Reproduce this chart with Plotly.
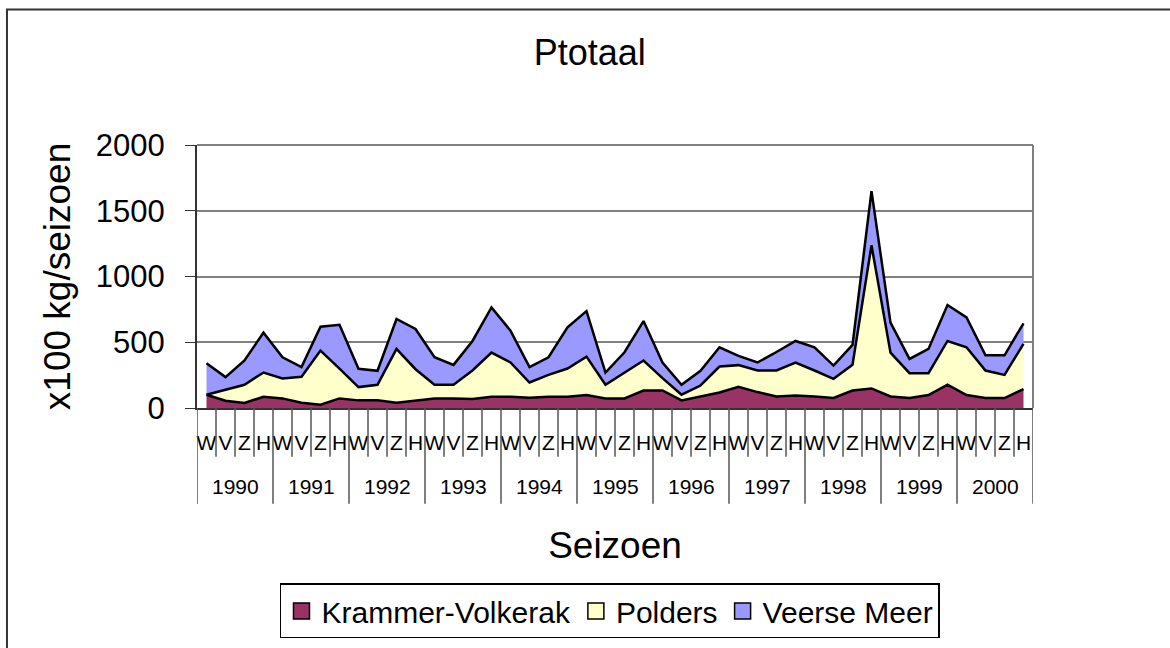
import plotly.graph_objects as go

years = ["1990", "1991", "1992", "1993", "1994", "1995", "1996", "1997", "1998", "1999", "2000"]
seasons = ["W", "V", "Z", "H"]

krammer = [101, 55, 38, 86, 73, 40, 25, 73, 58, 58, 40, 58, 73, 73, 68, 86,
           86, 78, 86, 86, 98, 73, 73, 133, 133, 58, 88, 118, 161, 121, 88, 96,
           88, 76, 133, 149, 88, 76, 98, 177, 98, 76, 76, 144]
polders = [0, 84, 139, 184, 152, 197, 412, 227, 101, 119, 409, 237, 104, 104, 217, 335,
           260, 116, 166, 214, 293, 104, 197, 228, 94, 43, 83, 197, 165, 164, 197, 250,
           197, 146, 195, 1088, 333, 189, 167, 333, 364, 209, 176, 343]
veerse = [240, 96, 184, 303, 161, 74, 181, 333, 139, 106, 228, 306, 209, 151, 225, 344,
          242, 117, 134, 313, 346, 93, 154, 300, 119, 76, 112, 147, 70, 61, 141, 164,
          177, 101, 152, 412, 228, 108, 184, 273, 227, 116, 149, 157]

# one category per (year, season); the axis shows the season, years are
# written as a second label row under each group of four seasons
keys = [f"{y} {s}" for y in years for s in seasons]
season_labels = [s for _ in years for s in seasons]
nS = len(seasons)

series = [("Krammer-Volkerak", krammer, "#993366"),
          ("Polders", polders, "#FFFFCC"),
          ("Veerse Meer", veerse, "#9999FF")]

fig = go.Figure()
for name, vals, col in series:
    fig.add_trace(go.Scatter(x=keys, y=vals, name=name, stackgroup="one", mode="lines",
                             line=dict(color="black", width=2.5), fillcolor=col,
                             showlegend=False, hoverinfo="skip"))
for name, vals, col in series:
    fig.add_trace(go.Scatter(x=[None], y=[None], name=name, mode="markers",
                             marker=dict(symbol="square", size=21, color=col,
                                         line=dict(color="black", width=1.5))))

PLOT_H = 264.0  # plot-area height in px (used to express px offsets in paper units)

shapes = [
    dict(type="line", xref="paper", yref="paper", x0=1, x1=1, y0=0, y1=1,
         line=dict(color="#808080", width=2)),
    dict(type="line", xref="paper", yref="paper", x0=0, x1=1, y0=1, y1=1,
         line=dict(color="#808080", width=2)),
    dict(type="rect", xref="paper", yref="paper", x0=-0.2273, x1=1.3,
         y0=-1.2, y1=(409 - 9) / PLOT_H, line=dict(color="#333", width=2)),
]
# category boundaries: short ticks between seasons, long dividers between years
for b in range(len(keys) + 1):
    is_year = b % nS == 0
    shapes.append(dict(type="line", xref="x", yref="paper", x0=b - 0.5, x1=b - 0.5,
                       y0=0, y1=-(96 if is_year else 49) / PLOT_H,
                       line=dict(color="#555", width=1.5)))

annotations = []
for k, y in enumerate(years):
    annotations.append(dict(text=y, xref="x", yref="paper", x=k * nS + (nS - 1) / 2,
                            y=-79 / PLOT_H, showarrow=False, xanchor="center",
                            yanchor="middle", font=dict(size=21)))

FONT = "Liberation Sans, Arial, sans-serif"
fig.update_layout(
    width=1170, height=648,
    margin=dict(l=197, r=137, t=145, b=239),
    paper_bgcolor="white", plot_bgcolor="white",
    font=dict(family=FONT, color="black"),
    title=dict(text="Ptotaal", font=dict(size=36), x=0.504, xanchor="center",
               xref="container", y=1 - 52 / 648, yanchor="middle", yref="container"),
    showlegend=True,
    legend=dict(orientation="h", x=0.494, xanchor="center", y=-0.765, yanchor="middle",
                font=dict(size=30), bordercolor="black", borderwidth=1.5,
                bgcolor="white", itemsizing="trace", traceorder="normal"),
    xaxis=dict(type="category", showgrid=False, ticks="",
               tickmode="array", tickvals=keys, ticktext=season_labels,
               tickfont=dict(size=21), tickangle=0, ticklabelstandoff=15,
               showline=True, linecolor="#333", linewidth=2, automargin=False,
               range=[-0.5, len(keys) - 0.5],
               title=dict(text="Seizoen", font=dict(size=37), standoff=79)),
    yaxis=dict(range=[0, 2000], dtick=500, showgrid=True, gridcolor="#808080",
               gridwidth=1.5, ticks="outside", ticklen=10, tickcolor="#333",
               tickfont=dict(size=31), ticklabelstandoff=14, showline=True,
               linecolor="#333", linewidth=2,
               zeroline=False, automargin=False,
               title=dict(text="x100 kg/seizoen", font=dict(size=37), standoff=14)),
    shapes=shapes,
    annotations=annotations,
)

fig.write_html("out.html", config={"displayModeBar": False},
               post_script="document.body.style.margin='0';")
